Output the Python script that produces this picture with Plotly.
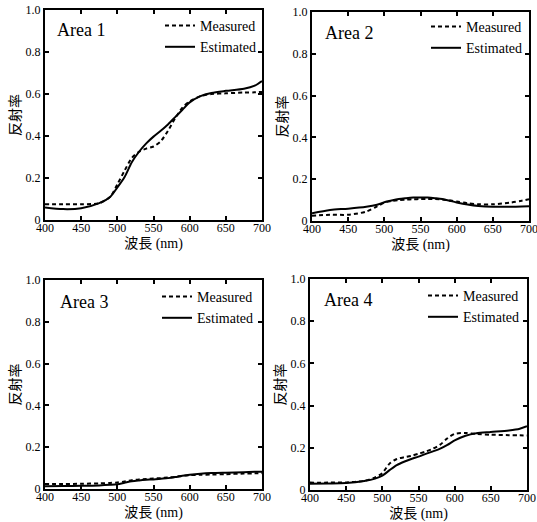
import plotly.graph_objects as go

# Wavelength grid (nm)
wavelength = [400, 425, 450, 475, 490, 500, 510, 520, 530, 540, 550, 560,
              570, 580, 590, 600, 615, 630, 650, 675, 690, 700]

area_names = ["Area 1", "Area 2", "Area 3", "Area 4"]

measured_1 = [0.075, 0.075, 0.075, 0.080, 0.110, 0.170, 0.235, 0.295, 0.325, 0.340, 0.350, 0.375,
              0.425, 0.485, 0.535, 0.565, 0.590, 0.600, 0.603, 0.607, 0.608, 0.610]
estimated_1 = [0.060, 0.052, 0.056, 0.080, 0.110, 0.155, 0.205, 0.275, 0.325, 0.365, 0.397, 0.425,
               0.455, 0.490, 0.525, 0.560, 0.590, 0.605, 0.615, 0.625, 0.640, 0.662]

measured_2 = [0.025, 0.030, 0.030, 0.045, 0.070, 0.088, 0.095, 0.100, 0.102, 0.104, 0.105, 0.105,
              0.105, 0.103, 0.099, 0.093, 0.085, 0.080, 0.080, 0.088, 0.097, 0.104]
estimated_2 = [0.037, 0.053, 0.059, 0.068, 0.078, 0.090, 0.098, 0.105, 0.109, 0.112, 0.113, 0.112,
               0.109, 0.105, 0.097, 0.089, 0.079, 0.072, 0.068, 0.068, 0.069, 0.070]

measured_3 = [0.024, 0.024, 0.025, 0.027, 0.029, 0.031, 0.036, 0.042, 0.046, 0.048, 0.050, 0.052,
              0.055, 0.058, 0.063, 0.066, 0.068, 0.069, 0.071, 0.074, 0.075, 0.076]
estimated_3 = [0.013, 0.014, 0.015, 0.017, 0.020, 0.023, 0.030, 0.037, 0.041, 0.044, 0.046, 0.049,
               0.052, 0.057, 0.063, 0.068, 0.073, 0.076, 0.078, 0.080, 0.082, 0.083]

measured_4 = [0.035, 0.035, 0.036, 0.043, 0.060, 0.080, 0.125, 0.147, 0.155, 0.162, 0.172, 0.182,
              0.196, 0.215, 0.245, 0.266, 0.270, 0.266, 0.262, 0.260, 0.259, 0.258]
estimated_4 = [0.030, 0.031, 0.033, 0.043, 0.054, 0.068, 0.094, 0.118, 0.134, 0.147, 0.158, 0.171,
               0.183, 0.196, 0.214, 0.235, 0.257, 0.269, 0.275, 0.282, 0.290, 0.302]

x_ticks = [400, 450, 500, 550, 600, 650, 700]
x_tick_labels = ["400", "450", "500", "550", "600", "650", "700"]
y_ticks = [0, 0.2, 0.4, 0.6, 0.8, 1.0]
y_tick_labels = ["0", "0.2", "0.4", "0.6", "0.8", "1.0"]

measured = [measured_1, measured_2, measured_3, measured_4]
estimated = [estimated_1, estimated_2, estimated_3, estimated_4]

W, H = 537, 522
SERIF = "Liberation Serif"
MIXED = "Liberation Serif, Noto Sans CJK JP"

# Plot boxes in pixels: (left, right, top, bottom)
boxes = [(45, 262, 10, 220), (312, 529, 12, 221), (45, 262, 280, 489), (310, 527, 279, 490)]
# Panel label and legend anchor positions in pixels
label_pos = [(55, 30), (323, 33), (58, 302), (322, 300)]
legend_pos = [(160, 10), (426, 11), (157, 281), (423, 280)]

fig = go.Figure()
layout = dict(
    template="none",
    width=W, height=H,
    margin=dict(l=0, r=0, t=0, b=0, pad=0),
    paper_bgcolor="white", plot_bgcolor="white",
    showlegend=True,
    annotations=[],
)

for i in range(4):
    n = "" if i == 0 else str(i + 1)
    leg = "legend" + n
    fig.add_trace(go.Scatter(
        x=wavelength, y=measured[i], mode="lines", name="Measured",
        line=dict(color="black", width=2, dash="4px,3px", shape="spline", smoothing=0.8),
        xaxis="x" + n, yaxis="y" + n, legend=leg,
    ))
    fig.add_trace(go.Scatter(
        x=wavelength, y=estimated[i], mode="lines", name="Estimated",
        line=dict(color="black", width=2, shape="spline", smoothing=0.8),
        xaxis="x" + n, yaxis="y" + n, legend=leg,
    ))
    l, r, t, b = boxes[i]
    common = dict(
        automargin=False,
        showline=True, linecolor="black", linewidth=2, mirror="allticks",
        ticks="inside", ticklen=4, tickwidth=1.5, tickcolor="black",
        showgrid=False, zeroline=False, ticklabeloverflow="allow",
        tickfont=dict(family=SERIF, size=12, color="black"),
    )
    layout["xaxis" + n] = dict(
        common, domain=[l / W, r / W], anchor="y" + n, range=[400, 700],
        tickvals=x_ticks, ticktext=x_tick_labels, ticklabelstandoff=-4,
        title=dict(text="波長 (nm)", font=dict(family=MIXED, size=14, color="black"), standoff=4),
    )
    layout["yaxis" + n] = dict(
        common, domain=[1 - b / H, 1 - t / H], anchor="x" + n, range=[0, 1],
        tickvals=y_ticks, ticktext=y_tick_labels,
        title=dict(text="反射率", font=dict(family=MIXED, size=14, color="black"), standoff=2),
    )
    lx, ly = legend_pos[i]
    layout[leg] = dict(
        x=lx / W, y=1 - ly / H, xanchor="left", yanchor="top",
        bgcolor="rgba(0,0,0,0)", borderwidth=0,
        font=dict(family=SERIF, size=14, color="black"),
        itemwidth=30, tracegroupgap=0,
    )
    ax, ay = label_pos[i]
    layout["annotations"].append(dict(
        text=area_names[i], x=ax / W, y=1 - ay / H, xref="paper", yref="paper",
        xanchor="left", yanchor="middle", showarrow=False,
        font=dict(family=SERIF, size=18, color="black"),
    ))

fig.update_layout(**layout)
fig.write_html("out.html", post_script="document.body.style.margin='0';")
